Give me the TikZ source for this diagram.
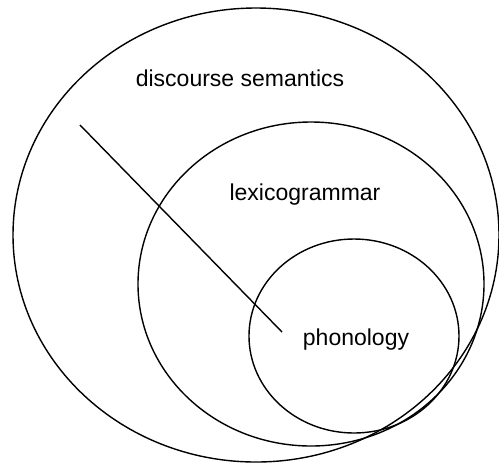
\documentclass[tikz,border=0pt]{standalone}
\usepackage{fontspec}
\setmainfont{Liberation Sans}
\usetikzlibrary{positioning}
\tikzset{
  stratum/.style={draw=black, line width=0.7pt},
  label/.style={inner sep=0pt, font=\fontsize{11.5}{13}\selectfont},
  pointer/.style={draw=black, line width=0.7pt}
}

\begin{document}
\begin{tikzpicture}[x=0.5pt, y=-0.5pt]
  \useasboundingbox (0,0) rectangle (499,463);
  \draw[stratum] (256,235) ellipse [x radius=243, y radius=227];
  \draw[stratum] (311,284) ellipse [x radius=173, y radius=162];
  \draw[stratum] (354,336) ellipse [x radius=105, y radius=97];
  \node[label] (disc) at (240,78) {discourse semantics};
  \node[label] (lexi) at (305,195) {lexicogrammar};
  \node[label] (phon) at (356,340) {phonology};
  \coordinate (tail) at (80,125);
  \coordinate (head) at (282,332);
  \draw[pointer] (tail) -- (head);
\end{tikzpicture}
\end{document}
